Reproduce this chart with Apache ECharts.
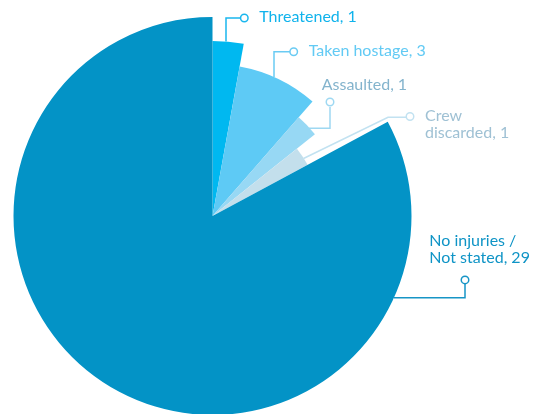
<!DOCTYPE html>
<html>
<head>
<meta charset="utf-8">
<script src="https://cdn.jsdelivr.net/npm/echarts@6/dist/echarts.min.js"></script>
<style>
html, body { margin: 0; padding: 0; background: #fff; }
#main { width: 547px; height: 414px; }
</style>
</head>
<body>
<div id="main"></div>
<script>
// data
var categories = ['Threatened', 'Taken hostage', 'Assaulted', 'Crew discarded', 'No injuries / Not stated'];
var nameLines = [['Threatened'], ['Taken hostage'], ['Assaulted'], ['Crew', 'discarded'], ['No injuries /', 'Not stated']];
var values = [1, 3, 1, 1, 29];

// styles
var sliceColors = ['#00b8f0', '#5ecaf5', '#97d8f4', '#c3dfec', '#0393c6'];
var textColors = ['#10b3ec', '#62caf4', '#84b4cd', '#9fc1d4', '#0f94c6'];
var lineColors = ['#1ab7ee', '#6acbf3', '#9ed8f2', '#c2e2f1', '#1795c6'];
var outerRadius = [175, 152, 131, 108, 199];
var center = [212.5, 216];
var fontFamily = 'Lato, "Open Sans", sans-serif';

// label placement (annotation layout only)
var labelLayouts = [
    {dot: 'left', x: 241.3, y: 18, va: 'middle', sp: 6, pad: 12,
        line: [[226, 41.5], [226, 18], [240, 18]]},
    {dot: 'left', x: 290.7, y: 51.7, va: 'middle', sp: 6, pad: 12,
        line: [[274, 77], [274, 51.7], [290, 51.7]]},
    {dot: 'below', x: 321.7, y: 76, va: 'top', sp: 5.3, pad: 0, dotLh: 18,
        line: [[309, 128.3], [330, 128.3], [330, 107]]},
    {dot: 'left', x: 407, y: 108, va: 'top', sp: 6, pad: 12,
        line: [[303.5, 158.5], [388, 117.3], [406, 117.3]]},
    {dot: 'below', x: 429.3, y: 232.4, va: 'top', sp: 32.7, pad: 0, dotLh: 27,
        line: [[394, 297.7], [465, 297.7], [465, 283]]}
];

function buildLabel(i) {
    var lines = nameLines[i].slice();
    lines[lines.length - 1] += ', ' + values[i];
    if (labelLayouts[i].dot === 'left') {
        return lines.map(function(s, k) {
            return (k === 0 ? '{dot|}' : '{sp|}') + '{t|' + s + '}';
        }).join('\n');
    }
    return lines.map(function(s) { return '{t|' + s + '}'; }).join('\n') + '\n{sp|}{dot|}';
}

function buildRich(i) {
    var lay = labelLayouts[i];
    var dotLh = lay.dotLh || 18;
    return {
        t: {
            fontSize: 16,
            fontFamily: fontFamily,
            color: textColors[i],
            lineHeight: 17,
            padding: lay.dot === 'left' ? [0, 0, 2, lay.pad] : 0
        },
        dot: {
            width: 6,
            height: 6,
            borderRadius: 3,
            borderWidth: 1.5,
            borderColor: lineColors[i],
            backgroundColor: '#fff',
            lineHeight: lay.dot === 'left' ? 17 : dotLh
        },
        sp: {
            width: lay.sp,
            height: 1,
            lineHeight: lay.dot === 'left' ? 17 : dotLh
        }
    };
}

var series = categories.map(function(cat, i) {
    return {
        type: 'pie',
        name: cat,
        center: center,
        radius: [0, outerRadius[i]],
        startAngle: 90,
        clockwise: true,
        avoidLabelOverlap: false,
        silent: true,
        animation: false,
        label: {
            show: true,
            position: 'outside',
            formatter: buildLabel(i),
            rich: buildRich(i)
        },
        labelLine: {
            show: true,
            lineStyle: { color: lineColors[i], width: 1.5 }
        },
        labelLayout: function(params) {
            var lay = labelLayouts[i];
            return {
                x: lay.x,
                y: lay.y,
                align: 'left',
                verticalAlign: lay.va,
                labelLinePoints: lay.line
            };
        },
        data: values.map(function(v, j) {
            return {
                name: categories[j],
                value: v,
                itemStyle: { color: j === i ? sliceColors[i] : 'rgba(0,0,0,0)' },
                label: { show: j === i },
                labelLine: { show: j === i }
            };
        })
    };
});

var chart = echarts.init(document.getElementById('main'));
chart.setOption({
    backgroundColor: '#fff',
    animation: false,
    series: series
});
</script>
</body>
</html>
